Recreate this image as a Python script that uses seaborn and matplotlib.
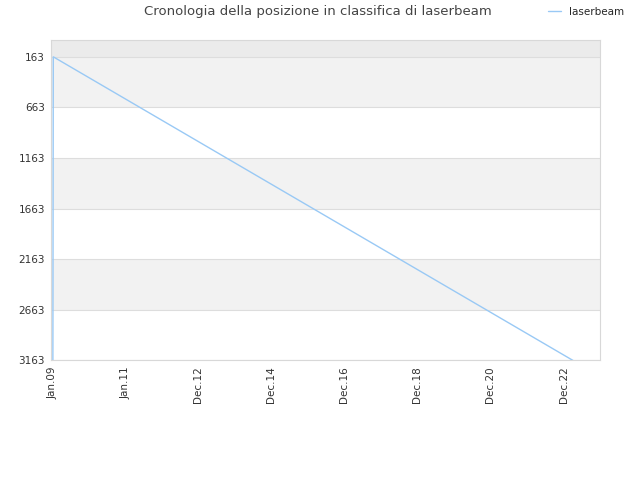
import pandas as pd
import matplotlib
matplotlib.use('Agg')
import matplotlib.pyplot as plt
import matplotlib.dates as mdates
import seaborn as sns

# posizione in classifica nel tempo
dates = ['2009-01-28', '2009-02-01', '2023-03-03']
ranks = [3163, 163, 3163]

tick_values = [163, 663, 1163, 1663, 2163, 2663, 3163]
tick_dates = pd.date_range('2009-01-20', periods=8, freq='723D')
tick_labels = ['Jan.09', 'Jan.11', 'Dec.12', 'Dec.14', 'Dec.16', 'Dec.18', 'Dec.20', 'Dec.22']

df = pd.DataFrame({'data': pd.to_datetime(dates), 'posizione': ranks})

sns.set_style('white')
plt.rcParams['font.family'] = ['DejaVu Sans']

fig = plt.figure(figsize=(6.4, 4.8), dpi=100)
ax = fig.add_axes([0.079, 0.249, 0.859, 0.667])

# fasce alternate
ax.axhspan(0, 163, color='#ebebeb', zorder=0, lw=0)
for lo in [163, 1163, 2163]:
    ax.axhspan(lo, lo + 500, color='#f2f2f2', zorder=0, lw=0)
for v in tick_values:
    ax.axhline(v, color='#dddddd', lw=0.8, zorder=1)

sns.lineplot(data=df, x='data', y='posizione', ax=ax, color='#99c9f5',
             lw=1, label='laserbeam', zorder=3)

ax.set_ylim(3163, 0)
ax.set_xlim(pd.Timestamp('2009-01-05'), pd.Timestamp('2023-11-28'))
ax.set_yticks(tick_values)
ax.set_yticklabels([str(v) for v in tick_values], fontsize=7.5, color='#333333')
ax.set_xticks(tick_dates)
ax.set_xticklabels(tick_labels, rotation=90, fontsize=7.5, color='#333333')
ax.tick_params(axis='both', length=0, pad=4)
ax.set_xlabel('')
ax.set_ylabel('')
for s in ax.spines.values():
    s.set_color('#d8d8d8')
    s.set_linewidth(0.8)

fig.text(0.497, 0.975, 'Cronologia della posizione in classifica di laserbeam',
         ha='center', va='center', fontsize=9.5, color='#444444')
ax.legend(loc='center right', bbox_to_anchor=(0.99, 0.975), bbox_transform=fig.transFigure,
          frameon=False, fontsize=7.5, handlelength=1.2, handletextpad=0.8)

fig.savefig('out.png', dpi=100)
